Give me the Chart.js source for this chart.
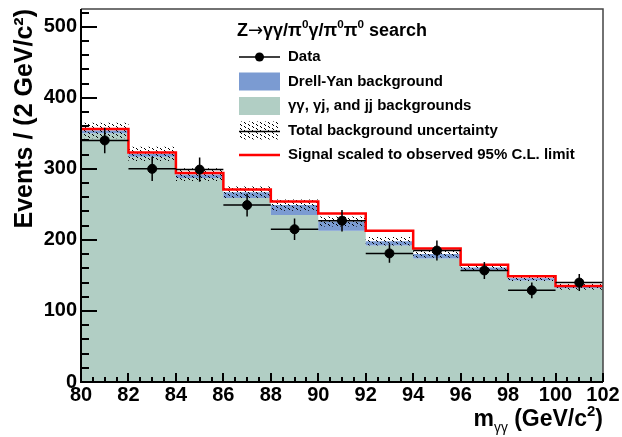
<!DOCTYPE html>
<html>
<head>
<meta charset="utf-8">
<script src="https://cdn.jsdelivr.net/npm/chart.js@4.4.0/dist/chart.umd.min.js"></script>
<style>
  body { margin: 0; background: #fff; }
  canvas { display: block; }
</style>
</head>
<body>
<canvas id="histo" width="622" height="437"></canvas>
<script>
// bins of 2 GeV/c^2 between 80 and 102
const binEdges = [80, 82, 84, 86, 88, 90, 92, 94, 96, 98, 100, 102]
const binCenters = [81, 83, 85, 87, 89, 91, 93, 95, 97, 99, 101]

const dataCounts = [340, 300, 299, 249, 215, 227, 181, 185, 157, 129, 140]
const dataErr = [18, 17, 17, 16, 15, 15, 13, 14, 12, 11, 12]

const jetBkg = [350, 317, 287, 259, 235, 213, 192, 174, 158, 143, 132]   // gg, gj, jj
const drellYan = [4, 4, 5, 8, 14, 13, 6, 6, 3, 3, 2]
const bkgErr = [11, 10, 9, 8, 8, 7, 6, 5, 4, 4, 4]
const signalLimit = [356, 323, 294, 271, 254, 237, 213, 188, 165, 149, 135]

const yTicks = [0, 100, 200, 300, 400, 500]
const xTicks = [80, 82, 84, 86, 88, 90, 92, 94, 96, 98, 100, 102]

const FONT = '"Liberation Sans", Arial, Helvetica, sans-serif'
const SYMFONT = '"DejaVu Sans", sans-serif'
const GREEN = 'rgb(177,206,196)'
const BLUE = 'rgb(123,155,210)'

let totalBkg = jetBkg.map((v, i) => v + drellYan[i])
let bandLow = totalBkg.map((v, i) => v - bkgErr[i])
let bandHigh = totalBkg.map((v, i) => v + bkgErr[i])

// histogram outline: one point per left edge, last value repeated at the right edge
function steps(vals) {
  let pts = vals.map((v, i) => ({ x: binEdges[i], y: v }))
  pts.push({ x: binEdges[vals.length], y: vals[vals.length - 1] })
  return pts
}

var canvas = document.getElementById('histo')
var ctx = canvas.getContext('2d')

// dotted hatch like the ROOT fill style
function hatchPattern() {
  var c = document.createElement('canvas')
  c.width = 8; c.height = 4
  var g = c.getContext('2d')
  g.fillStyle = '#000'
  g.fillRect(0, 0, 1, 1); g.fillRect(1, 1, 1, 1)
  g.fillRect(4, 2, 1, 1); g.fillRect(5, 3, 1, 1)
  return ctx.createPattern(c, 'repeat')
}
const hatch = hatchPattern()

// text with super/subscripts, parts = [[text, 'sup'|'sub'|'sym'|null], ...]
function partFont(mode, size) {
  if (mode === 'sym') return size + 'px ' + SYMFONT
  if (mode === 'sub') return size * 0.6 + 'px ' + FONT
  return 'bold ' + (mode ? size * 0.65 : size) + 'px ' + FONT
}
function richWidth(c, parts, size) {
  let w = 0
  parts.forEach(([t, mode]) => {
    c.font = partFont(mode, size)
    w += c.measureText(t).width
  })
  return w
}
function richText(c, x, y, parts, size) {
  parts.forEach(([t, mode]) => {
    c.font = partFont(mode, size)
    let dy = mode === 'sup' ? -size * 0.42 : mode === 'sub' ? size * 0.28 : 0
    c.fillText(t, x, y + dy)
    x += c.measureText(t).width
  })
  return x
}

const errorBars = {
  id: 'errorBars',
  afterDatasetsDraw(chart) {
    const c = chart.ctx, xs = chart.scales.x, ys = chart.scales.y
    c.save()
    c.strokeStyle = '#000'
    c.lineWidth = 1.5
    binCenters.forEach((m, i) => {
      let px = xs.getPixelForValue(m), py = ys.getPixelForValue(dataCounts[i])
      c.beginPath()
      c.moveTo(xs.getPixelForValue(m - 1), py)
      c.lineTo(xs.getPixelForValue(m + 1), py)
      c.moveTo(px, ys.getPixelForValue(dataCounts[i] - dataErr[i]))
      c.lineTo(px, ys.getPixelForValue(dataCounts[i] + dataErr[i]))
      c.stroke()
    })
    c.restore()
  }
}

// ROOT style frame with ticks pointing inside
const frameTicks = {
  id: 'frameTicks',
  afterDraw(chart) {
    const c = chart.ctx, a = chart.chartArea, xs = chart.scales.x, ys = chart.scales.y
    c.save()
    c.strokeStyle = '#444'
    c.lineWidth = 1.5
    c.beginPath()
    c.moveTo(a.left, a.top); c.lineTo(a.right, a.top); c.lineTo(a.right, a.bottom)
    c.stroke()
    c.strokeStyle = '#000'
    c.lineWidth = 2
    c.beginPath()
    c.moveTo(a.left, a.top); c.lineTo(a.left, a.bottom); c.lineTo(a.right, a.bottom)
    for (let v = 0; v <= 520; v += 20) {
      let py = Math.round(ys.getPixelForValue(v))
      let len = v % 100 === 0 ? 16 : 8
      c.moveTo(a.left, py); c.lineTo(a.left + len, py)
    }
    for (let v = 80; v <= 102; v += 0.5) {
      let px = Math.round(xs.getPixelForValue(v))
      let len = v % 2 === 0 ? 9 : 5
      c.moveTo(px, a.bottom); c.lineTo(px, a.bottom - len)
    }
    c.stroke()

    // x axis title
    c.fillStyle = '#000'
    c.textBaseline = 'alphabetic'
    const xt = [['m', null], ['\u03b3\u03b3', 'sub'], [' (GeV/c', null], ['2', 'sup'], [')', null]]
    richText(c, a.right - richWidth(c, xt, 23), 426, xt, 23)
    c.restore()
  }
}

const legendBox = {
  id: 'legendBox',
  afterDraw(chart) {
    const c = chart.ctx
    c.save()
    c.fillStyle = '#000'
    c.textBaseline = 'alphabetic'
    richText(c, 237, 36, [['Z', null], ['\u2192', 'sym'], ['\u03b3\u03b3/\u03c0', null], ['0', 'sup'],
      ['\u03b3/\u03c0', null], ['0', 'sup'], ['\u03c0', null], ['0', 'sup'], [' search', null]], 18)

    const rows = [57, 81.5, 106, 130.5, 155]
    const x0 = 239, x1 = 280, tx = 288
    // Data
    c.strokeStyle = '#000'; c.lineWidth = 1.5
    c.beginPath(); c.moveTo(x0, rows[0]); c.lineTo(x1, rows[0]); c.stroke()
    c.beginPath(); c.arc((x0 + x1) / 2, rows[0], 4.5, 0, Math.PI * 2); c.fill()
    // Drell-Yan
    c.fillStyle = BLUE; c.fillRect(x0, rows[1] - 9, x1 - x0, 18)
    // gg, gj, jj
    c.fillStyle = GREEN; c.fillRect(x0, rows[2] - 9, x1 - x0, 18)
    // uncertainty
    c.fillStyle = hatch; c.fillRect(x0, rows[3] - 9, x1 - x0, 18)
    c.beginPath(); c.moveTo(x0, rows[3] + 1); c.lineTo(x1, rows[3] + 1); c.stroke()
    // signal
    c.strokeStyle = '#ff0000'; c.lineWidth = 2.5
    c.beginPath(); c.moveTo(x0, rows[4]); c.lineTo(x1, rows[4]); c.stroke()

    c.fillStyle = '#000'
    c.textBaseline = 'middle'
    c.font = 'bold 15px ' + FONT
    c.fillText('Data', tx, rows[0])
    c.fillText('Drell-Yan background', tx, rows[1])
    c.fillText('\u03b3\u03b3, \u03b3j, and jj backgrounds', tx, rows[2])
    c.fillText('Total background uncertainty', tx, rows[3])
    c.fillText('Signal scaled to observed 95% C.L. limit', tx, rows[4])
    c.restore()
  }
}

let chart = new Chart(canvas, {
  type: 'line',
  data: {
    datasets: [
      { label: 'Data', data: binCenters.map((m, i) => ({ x: m, y: dataCounts[i] })), showLine: false,
        pointRadius: 4.5, pointBackgroundColor: '#000', pointBorderColor: '#000', order: 0 },
      { label: 'Signal', data: steps(signalLimit), stepped: true, borderColor: '#ff0000', borderWidth: 2.5,
        fill: false, order: 1 },
      { label: 'band low', data: steps(bandLow), stepped: true, borderWidth: 0, borderColor: 'rgba(0,0,0,0)',
        fill: false, order: 2 },
      { label: 'Total background uncertainty', data: steps(bandHigh), stepped: true, borderWidth: 0,
        borderColor: 'rgba(0,0,0,0)', backgroundColor: hatch, fill: 2, order: 2 },
      { label: 'Drell-Yan background', data: steps(totalBkg), stepped: true, borderWidth: 0,
        borderColor: 'rgba(0,0,0,0)', backgroundColor: BLUE, fill: 5, order: 3 },
      { label: 'gg, gj, jj backgrounds', data: steps(jetBkg), stepped: true, borderWidth: 0,
        borderColor: 'rgba(0,0,0,0)', backgroundColor: GREEN, fill: 'origin', order: 4 }
    ]
  },
  options: {
    responsive: false,
    animation: false,
    layout: { padding: { top: 9, right: 19, left: 0, bottom: 0 } },
    elements: { point: { radius: 0 } },
    plugins: { legend: { display: false }, tooltip: { enabled: false } },
    scales: {
      x: {
        type: 'linear', min: 80, max: 102,
        afterFit: s => { s.height = 55 },
        afterBuildTicks: s => { s.ticks = xTicks.map(v => ({ value: v })) },
        grid: { display: false }, border: { display: false },
        ticks: { autoSkip: false, maxRotation: 0, color: '#000', padding: -7,
          font: { family: FONT, size: 20, weight: 'bold' } }
      },
      y: {
        min: 0, max: 525,
        afterFit: s => { s.width = 81 },
        afterBuildTicks: s => { s.ticks = yTicks.map(v => ({ value: v })) },
        grid: { display: false }, border: { display: false },
        ticks: { color: '#000', padding: -4, font: { family: FONT, size: 20, weight: 'bold' } },
        title: { display: true, text: 'Events / (2 GeV/c\u00b2)', align: 'end', color: '#000',
          padding: { top: 10, bottom: 0 }, font: { family: FONT, size: 25, weight: 'bold' } }
      }
    }
  },
  plugins: [errorBars, frameTicks, legendBox]
})
</script>
</body>
</html>
